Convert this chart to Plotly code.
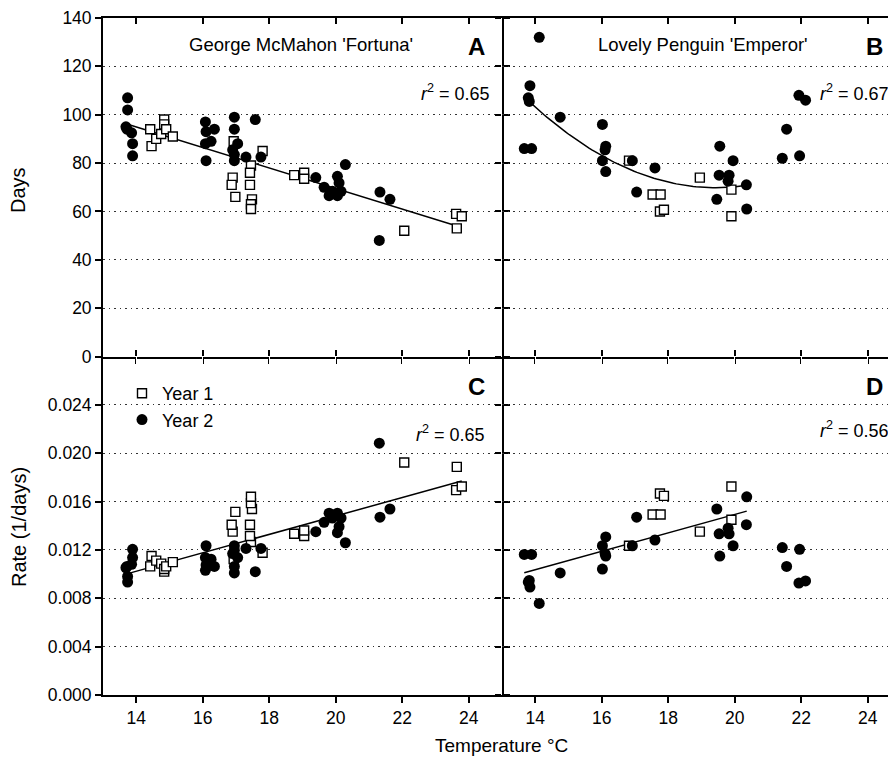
import numpy as np
import plotly.graph_objects as go

# ---------------- data ----------------
# Panel A / C : George McMahon 'Fortuna'
a_y1_temp = [14.42, 14.46, 14.60, 14.75, 14.84, 14.84, 14.90, 15.10,
             16.93, 16.90, 16.87, 16.98, 17.45, 17.42, 17.42, 17.48, 17.45, 17.45,
             17.80, 18.75, 19.05, 19.05, 22.06, 23.62, 23.79, 23.64]
a_y1_days = [94, 87, 90, 92, 98, 96, 94, 91,
             89, 74, 71, 66, 79, 76, 71, 65, 63, 61,
             85, 75, 76, 73.5, 52, 59, 58, 53]
a_y2_temp = [13.74, 13.74, 13.69, 13.72, 13.86, 13.89, 13.89,
             16.08, 16.10, 16.35, 16.08, 16.25, 16.10,
             16.95, 16.95, 17.05, 16.90, 16.95, 16.95, 17.30, 17.58, 17.75,
             19.40, 19.65, 19.80, 19.90, 20.05, 20.16, 20.05, 20.10, 20.29,
             21.33, 21.63, 21.31]
a_y2_days = [107, 102, 95, 94, 92.5, 88, 83,
             97, 93, 94, 88, 89, 81,
             99, 94, 88, 85.5, 83.5, 81, 82.5, 98, 82.5,
             74, 70, 66.5, 68.3, 66.5, 68.3, 74.5, 71.8, 79.4,
             68, 65, 48]

# Panel B / D : Lovely Penguin 'Emperor'
b_y1_temp = [16.82, 17.53, 17.77, 17.75, 17.87, 18.95, 19.90, 19.90]
b_y1_days = [81, 67, 67, 60, 60.7, 74, 69, 58]
b_y2_temp = [14.12, 13.84, 13.79, 13.82, 13.67, 13.89, 14.75,
             16.02, 16.12, 16.10, 16.02, 16.12, 16.92, 17.60, 17.05,
             19.55, 19.95, 19.53, 19.83, 19.80, 20.35, 19.46, 20.36,
             21.56, 21.43, 21.95, 21.93, 22.13]
b_y2_days = [132, 112, 107, 105.5, 86, 86, 99,
             96, 87, 85.5, 81, 76.5, 81, 78, 68,
             87, 81, 75, 75, 72.5, 71, 65, 61,
             94, 82, 83, 108, 106]

fit_max_temp_b = 20.5          # high-temperature points of 'Emperor' excluded from fit
r2_labels = ["0.65", "0.67", "0.65", "0.56"]
panel_letters = ["A", "B", "C", "D"]
panel_titles = ["George McMahon 'Fortuna'", "Lovely Penguin 'Emperor'"]
x_range = [13, 25]
x_ticks = [14, 16, 18, 20, 22, 24]
days_ticks = [0, 20, 40, 60, 80, 100, 120, 140]
rate_ticks = [0.000, 0.004, 0.008, 0.012, 0.016, 0.020, 0.024]

# ---------------- layout helpers ----------------
# The figure is wider than the 888 px window: the right panel runs off the
# right edge, exactly as in the (cropped) reference.
W, H = 901, 757
ML, MR, MT, MB = 103, 0, 18, 62
PW, PH = W - ML - MR, H - MT - MB
def px2x(px):
    return (px - 103) / PW
def py2y(py):
    return (695 - py) / PH

split = px2x(502)
FONT = "Liberation Sans, Arial, Helvetica, sans-serif"

def arr(v):
    return np.asarray(v, dtype=float)

def fit_line(xs, ys, deg):
    xs, ys = arr(xs), arr(ys)
    c = np.polyfit(xs, ys, deg)
    xx = np.linspace(xs.min(), xs.max(), 80)
    return xx, np.polyval(c, xx)

fig = go.Figure()

panels = [
    ("x", "y", arr(a_y1_temp), arr(a_y1_days), arr(a_y2_temp), arr(a_y2_days), 1, False),
    ("x2", "y2", arr(b_y1_temp), arr(b_y1_days), arr(b_y2_temp), arr(b_y2_days), 2, True),
    ("x3", "y3", arr(a_y1_temp), 1 / arr(a_y1_days), arr(a_y2_temp), 1 / arr(a_y2_days), 1, False),
    ("x4", "y4", arr(b_y1_temp), 1 / arr(b_y1_days), arr(b_y2_temp), 1 / arr(b_y2_days), 1, True),
]

for i, (xr, yr, t1, v1, t2, v2, deg, restrict) in enumerate(panels):
    tt = np.concatenate([t1, t2])
    vv = np.concatenate([v1, v2])
    if restrict:
        m = tt <= fit_max_temp_b
        tt, vv = tt[m], vv[m]
    fx, fy = fit_line(tt, vv, deg)
    fig.add_trace(go.Scatter(x=fx, y=fy, mode="lines", xaxis=xr, yaxis=yr,
                             line=dict(color="black", width=1.5),
                             showlegend=False, hoverinfo="skip"))
    show = (i == 2)
    fig.add_trace(go.Scatter(x=t1, y=v1, mode="markers", xaxis=xr, yaxis=yr,
                             name="Year 1", showlegend=show,
                             marker=dict(symbol="square", size=9, color="white",
                                         line=dict(color="black", width=1.4))))
    fig.add_trace(go.Scatter(x=t2, y=v2, mode="markers", xaxis=xr, yaxis=yr,
                             name="Year 2", showlegend=show,
                             marker=dict(symbol="circle", size=11, color="black",
                                         line=dict(color="black", width=0))))

# empty traces so the extra top-edge tick axes get drawn
for xa, ya in [("x5", "y"), ("x6", "y2"), ("x7", "y3"), ("x8", "y4")]:
    fig.add_trace(go.Scatter(x=[], y=[], xaxis=xa, yaxis=ya, mode="markers",
                             showlegend=False, hoverinfo="skip"))

LW = 1.8
common_ax = dict(linecolor="black", linewidth=LW,
                 ticks="outside", ticklen=6, tickwidth=1.5, tickcolor="black",
                 zeroline=False,
                 tickfont=dict(family=FONT, size=17.5, color="black"))
grid = dict(showgrid=True, gridcolor="#333333", gridwidth=1, griddash="1.5px,4px")

def top_ticks(over, anchor, direction):
    return dict(overlaying=over, anchor=anchor, side="top", range=x_range,
                tickvals=x_ticks, ticks=direction, ticklen=6, tickwidth=1.5,
                tickcolor="black", showticklabels=False, showline=False,
                showgrid=False, zeroline=False)

fig.update_layout(
    width=W, height=H,
    margin=dict(l=ML, r=MR, t=MT, b=MB),
    paper_bgcolor="white", plot_bgcolor="white",
    font=dict(family=FONT, color="black"),
    xaxis=dict(domain=[0, split], anchor="y", range=x_range, tickvals=x_ticks,
               showticklabels=False, showline=True, mirror=True, **common_ax),
    yaxis=dict(domain=[0.5, 1], anchor="x", range=[0, 140], tickvals=days_ticks,
               showline=True, mirror="ticks", **grid, **common_ax),
    xaxis2=dict(domain=[split, 1], anchor="y2", range=x_range, tickvals=x_ticks,
                showticklabels=False, showline=True, mirror=True, **common_ax),
    yaxis2=dict(domain=[0.5, 1], anchor="x2", range=[0, 140], tickvals=days_ticks,
                showticklabels=False, showline=False, **grid, **common_ax),
    xaxis3=dict(domain=[0, split], anchor="y3", range=x_range, tickvals=x_ticks,
                showline=True, mirror=False, **common_ax),
    yaxis3=dict(domain=[0, 0.5], anchor="x3", range=[0, 0.028], tickvals=rate_ticks,
                tickformat=".3f", showline=True, mirror="ticks", **grid, **common_ax),
    xaxis4=dict(domain=[split, 1], anchor="y4", range=x_range, tickvals=x_ticks,
                showline=True, mirror=False, **common_ax),
    yaxis4=dict(domain=[0, 0.5], anchor="x4", range=[0, 0.028], tickvals=rate_ticks,
                showticklabels=False, showline=False, **grid, **common_ax),
    xaxis5=top_ticks("x", "y", "inside"),
    xaxis6=top_ticks("x2", "y2", "inside"),
    xaxis7=top_ticks("x3", "y3", "outside"),
    xaxis8=top_ticks("x4", "y4", "outside"),
    legend=dict(x=px2x(122), y=py2y(375), xanchor="left", yanchor="top",
                bgcolor="rgba(0,0,0,0)", borderwidth=0,
                font=dict(family=FONT, size=18, color="black"),
                itemsizing="trace", tracegroupgap=0),
)

ann = []
def add_text(text, px, py, size, xanchor="center", bold=False, angle=0):
    ann.append(dict(text=f"<b>{text}</b>" if bold else text,
                    x=px2x(px), y=py2y(py), xref="paper", yref="paper",
                    xanchor=xanchor, yanchor="middle", showarrow=False,
                    textangle=angle,
                    font=dict(family=FONT, size=size, color="black")))

add_text(panel_titles[0], 301, 44, 18.5)
add_text(panel_titles[1], 703, 44, 18.5)
add_text(panel_letters[0], 476.5, 46, 24, bold=True)
add_text(panel_letters[1], 874.5, 46, 24, bold=True)
add_text(panel_letters[2], 476.5, 386, 24, bold=True)
add_text(panel_letters[3], 874.5, 386, 24, bold=True)
def r2(v):
    return f"<i>r</i><sup>2</sup> = {v}"
add_text(r2(r2_labels[0]), 492, 93, 18, xanchor="right")
add_text(r2(r2_labels[1]), 818, 93, 18, xanchor="left")
add_text(r2(r2_labels[2]), 487, 433, 18, xanchor="right")
add_text(r2(r2_labels[3]), 818, 430, 18, xanchor="left")
add_text("Days", 18, 190, 20, angle=-90)
add_text("Rate (1/days)", 19, 527, 20, angle=-90)
add_text("Temperature °C", 501, 745, 19)

fig.update_layout(annotations=ann)
fig.write_html("out.html",
               config={"displayModeBar": False},
               post_script="document.body.style.margin='0';"
                           "document.body.style.overflow='hidden';"
                           "document.documentElement.style.overflow='hidden';")
